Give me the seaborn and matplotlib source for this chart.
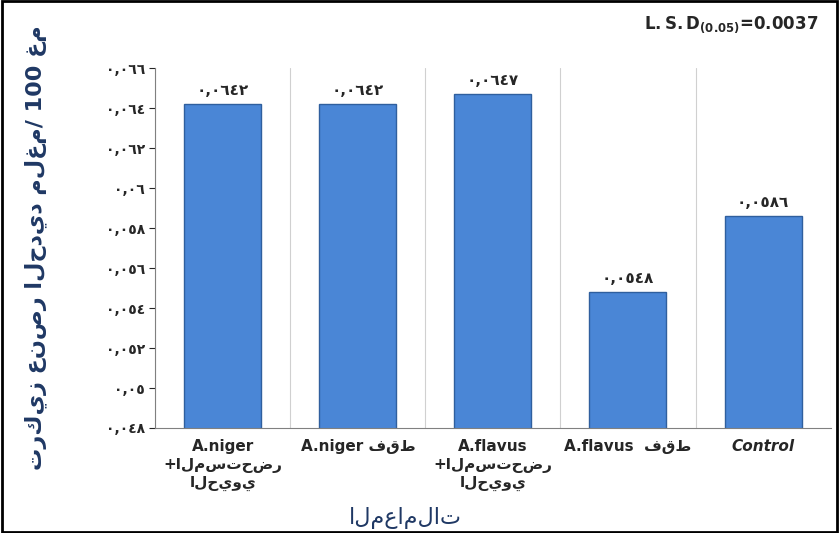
import matplotlib
matplotlib.use("Agg")
import matplotlib.pyplot as plt
import seaborn as sns
import pandas as pd

categories = ["A.niger\n+المستحضر\nالحيوي", "A.niger فقط", "A.flavus\n+المستحضر\nالحيوي", "A.flavus  فقط", "Control"]
values = [0.0642, 0.0642, 0.0647, 0.0548, 0.0586]
value_labels = ["٠,٠٦٤٢", "٠,٠٦٤٢", "٠,٠٦٤٧", "٠,٠٥٤٨", "٠,٠٥٨٦"]
yticks = [0.048, 0.05, 0.052, 0.054, 0.056, 0.058, 0.06, 0.062, 0.064, 0.066]
ytick_labels = ["٠,٠٤٨", "٠,٠٥", "٠,٠٥٢", "٠,٠٥٤", "٠,٠٥٦", "٠,٠٥٨", "٠,٠٦", "٠,٠٦٢", "٠,٠٦٤", "٠,٠٦٦"]

sns.set_style("white")
plt.rcParams['font.family'] = ['DejaVu Sans']

fig = plt.figure(figsize=(8.39, 5.33), dpi=100)
ax = fig.add_axes([0.185, 0.197, 0.805, 0.675])
df = pd.DataFrame({"cat": categories, "val": values})
sns.barplot(data=df, x="cat", y="val", ax=ax, color="#4a86d6", edgecolor="#2f5f9e",
            linewidth=1, width=0.57, saturation=1)
ax.set_ylim(0.048, 0.066)
ax.set_yticks(yticks)
ax.set_yticklabels(ytick_labels, fontsize=10, fontweight="bold")
for i in range(len(categories) + 1):
    ax.axvline(i - 0.5, color="#d0d0d0", lw=0.8, zorder=0)
for i, (v, t) in enumerate(zip(values, value_labels)):
    ax.text(i, v + 0.0003, t, ha="center", va="bottom", fontsize=11, fontweight="bold")
ax.set_xticks(range(len(categories)))
ax.set_xticklabels(categories, fontsize=11, fontweight="bold")
for lbl in ax.get_xticklabels():
    if lbl.get_text().isascii():
        lbl.set_fontstyle("italic")
ax.tick_params(axis="x", length=0, pad=8)
ax.tick_params(axis="y", length=4, left=True)
for s in ["top", "right"]:
    ax.spines[s].set_visible(False)
ax.spines["left"].set_color("#808080")
ax.spines["bottom"].set_color("#808080")
ax.set_xlabel("المعاملات", fontsize=16, color="#1f3864")
ax.xaxis.set_label_coords(0.37, -0.22)
ax.set_ylabel("تركيز عنصر الحديد ملغم/ 100 غم", fontsize=16, color="#1f3864", fontweight="bold")
ax.yaxis.set_label_coords(-0.16, 0.5)
fig.text(0.975, 0.945, r"$\mathbf{L.S.D_{(0.05)}}$=0.0037", ha="right", fontsize=12, fontweight="bold")
fig.patches.append(plt.Rectangle((0.002, 0.002), 0.996, 0.996, transform=fig.transFigure,
                                 fill=False, edgecolor="black", lw=2))
fig.savefig("out.png", dpi=100)
